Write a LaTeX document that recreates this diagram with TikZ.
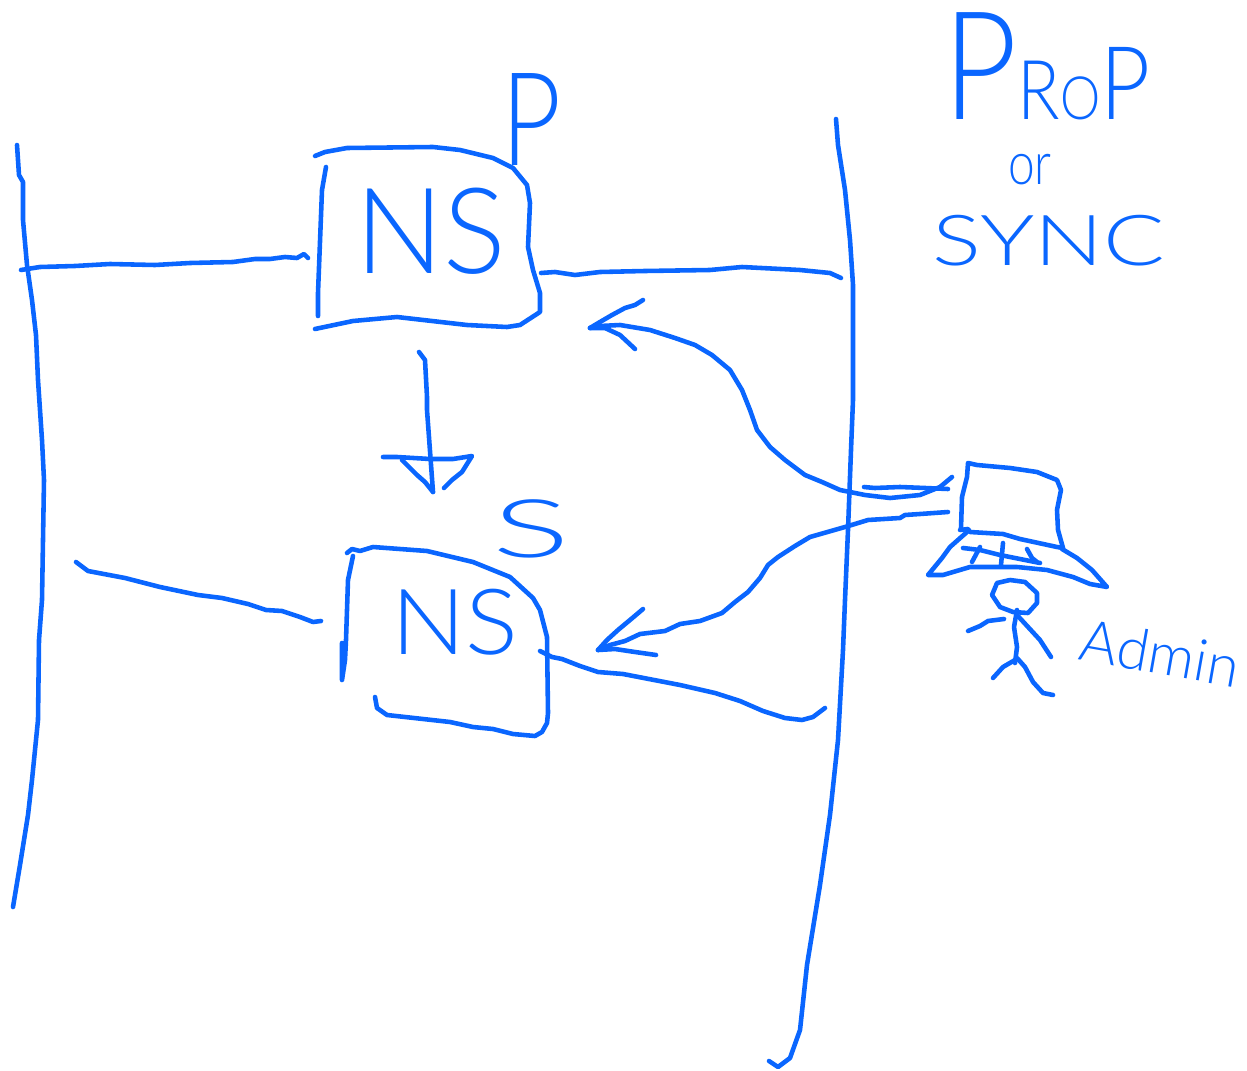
\documentclass[tikz,border=0pt]{standalone}
\usepackage{fontspec}
\setmainfont{Lato Light}
\usepackage{tikz}

\definecolor{penblue}{RGB}{10,102,255}
\tikzset{
    pen/.style={draw=penblue, line width=2.6pt, line cap=round, line join=round},
    hand/.style={text=penblue, inner sep=0pt, transform shape}
}
\newcommand{\handsize}[1]{\fontsize{#1}{#1}\selectfont}

\begin{document}
\begin{tikzpicture}[x=0.02cm, y=-0.02cm]
        \useasboundingbox (0,0) rectangle (1247,1071);

        % Text
        \node[hand, anchor=base west, xscale=0.85] (prop) at (943,120) {\handsize{86}P\handsize{47}R\handsize{34}O\handsize{58}P};
        \node[hand, xscale=0.8] (orword) at (1030,170) {\handsize{34}or};
        \node[hand, xscale=1.3] (sync) at (1049,241) {\handsize{40}SYNC};
        \node[hand, xscale=0.8] (ptag) at (532,120) {\handsize{74}P};
        \node[hand, xscale=1.8] (stag) at (531,529) {\handsize{46}S};
        \node[hand, xscale=0.98] (nsA) at (431,231) {\handsize{68}NS};
        \node[hand, xscale=1.08] (nsB) at (455,622) {\handsize{52}NS};
        \node[hand, rotate=-10] (admin) at (1160,653) {\handsize{33}Admin};

        % Ends of the connectors
        \coordinate (wallA) at (21,270);
        \coordinate (nsAw) at (308,258);
        \coordinate (nsAe) at (541,273);
        \coordinate (farA) at (841,278);
        \coordinate (wallB) at (76,562);
        \coordinate (nsBw) at (321,621);
        \coordinate (nsBe) at (540,651);
        \coordinate (farB) at (825,708);
        \coordinate (nsAs) at (419,352);
        \coordinate (nsBn) at (433,492);
        \coordinate (hatA) at (952,477);
        \coordinate (hatB) at (948,512);
        \coordinate (tipA) at (590,328);
        \coordinate (tipB) at (598,650);

        % Walls
        \draw[pen] (17,145) -- (19,175) -- (23,182) -- (23,220) -- (27,265) -- (32,300) -- (36,335) -- (38,380) -- (42,440) -- (44,480) -- (43,540) -- (42,600) -- (39,640) -- (38,720) -- (32,780) -- (28,815) -- (20,865) -- (13,907);
        \draw[pen] (836,119) -- (838,145) -- (845,190) -- (850,240) -- (853,285) -- (853,400) -- (851,450) -- (848,530) -- (845,600) -- (843,650) -- (838,740) -- (830,815) -- (820,885) -- (807,965) -- (800,1030) -- (790,1058) -- (778,1067) -- (769,1061);

        % Upper box
        \draw[pen] (315,156) -- (325,152) -- (347,148) -- (433,147) -- (460,150) -- (493,158) -- (513,168) -- (527,185) -- (530,203) -- (528,247) -- (533,270) -- (540,293) -- (540,312) -- (520,325) -- (507,327) -- (467,325) -- (397,317) -- (353,321) -- (315,329);
        \draw[pen] (326,167) -- (322,190) -- (318,293) -- (318,316);

        % Lower box
        \draw[pen] (347,553) -- (352,549) -- (360,551) -- (373,547) -- (427,551) -- (473,562) -- (510,577) -- (533,598) -- (540,610) -- (547,637) -- (548,713) -- (547,723) -- (542,732) -- (535,736) -- (513,734) -- (493,729) -- (473,727) -- (450,722) -- (387,715) -- (377,708) -- (375,697);
        \draw[pen] (353,556) -- (348,580) -- (346,640) -- (345,660) -- (342,680) -- (342,643);

        % Edges
        \draw[pen] (wallA) -- (40,267) -- (75,266) -- (110,264) -- (155,265) -- (190,263) -- (233,262) -- (255,259) -- (270,259) -- (285,257) -- (297,258) -- (304,254) -- (nsAw);
        \draw[pen] (nsAe) -- (555,272) -- (575,275) -- (600,272) -- (645,271) -- (710,270) -- (742,267) -- (800,270) -- (830,273) -- (farA);
        \draw[pen] (wallB) -- (88,571) -- (125,578) -- (160,587) -- (198,595) -- (222,598) -- (248,604) -- (266,610) -- (282,611) -- (300,617) -- (313,622) -- (nsBw);
        \draw[pen] (nsBe) -- (552,657) -- (562,659) -- (580,666) -- (598,672) -- (623,674) -- (680,685) -- (715,693) -- (740,701) -- (763,711) -- (785,718) -- (802,720) -- (813,717) -- (farB);
        \draw[pen] (nsAs) -- (425,360) -- (427,397) -- (427,410) -- (nsBn);
        \draw[pen] (383,457) -- (397,457) -- (430,459) -- (453,459) -- (472,456) -- (462,472) -- (452,480) -- (444,488);
        \draw[pen] (402,460) -- (417,475) -- (425,482) -- (nsBn);

        % Arrows from the hat
        \draw[pen] (948,489) -- (925,488) -- (900,487) -- (875,488) -- (864,487);
        \draw[pen] (hatA) -- (940,487) -- (920,495) -- (890,498) -- (865,495) -- (840,490) -- (822,482) -- (805,475) -- (785,460) -- (770,447) -- (757,430) -- (750,410) -- (742,390) -- (730,370) -- (712,355) -- (695,345) -- (675,338) -- (650,330) -- (620,325) -- (600,326) -- (tipA);
        \draw[pen] (tipA) -- (600,322) -- (612,315) -- (625,308) -- (635,305) -- (643,300);
        \draw[pen] (tipA) -- (605,328) -- (620,335) -- (635,349);
        \draw[pen] (hatB) -- (920,514) -- (905,515) -- (900,518) -- (868,520) -- (845,527) -- (810,537) -- (795,546) -- (778,557) -- (768,565) -- (760,578) -- (748,592) -- (735,602) -- (722,613) -- (700,621) -- (680,624) -- (665,631) -- (640,634) -- (625,641) -- (610,645) -- (tipB);
        \draw[pen] (tipB) -- (607,640) -- (618,630) -- (630,620) -- (643,609);
        \draw[pen] (tipB) -- (615,649) -- (635,652) -- (656,655);

        % Hat
        \draw[pen] (961,528) -- (962,497) -- (967,477) -- (968,463) -- (977,465) -- (1010,468) -- (1037,472) -- (1057,480) -- (1061,490) -- (1057,510) -- (1058,530) -- (1063,548);
        \draw[pen] (960,530) -- (968,529) -- (970,532) -- (1003,534) -- (1020,539) -- (1057,547) -- (1063,548);
        \draw[pen] (967,532) -- (950,547) -- (942,558) -- (928,575) -- (943,575) -- (970,567) -- (1017,567) -- (1047,570) -- (1073,577) -- (1090,584) -- (1107,587) -- (1092,570) -- (1077,558) -- (1062,549);
        \draw[pen] (963,548) -- (980,550) -- (1000,555) -- (1040,563);
        \draw[pen] (980,547) -- (972,562);
        \draw[pen] (1003,543) -- (1001,565);
        \draw[pen] (1027,549) -- (1032,558) -- (1037,562);

        % Person
        \draw[pen] (997,583) -- (1010,580) -- (1025,582) -- (1037,593) -- (1037,603) -- (1028,613) -- (1013,612) -- (1000,607) -- (992,595) -- cycle;
        \draw[pen] (1017,610) -- (1014,627) -- (1017,647) -- (1015,663);
        \draw[pen] (1017,615) -- (1040,640) -- (1051,657);
        \draw[pen] (1004,619) -- (988,621) -- (980,626) -- (968,631);
        \draw[pen] (1015,660) -- (1003,667) -- (993,678);
        \draw[pen] (1017,658) -- (1025,667) -- (1033,682) -- (1043,693) -- (1053,695);
    \end{tikzpicture}
\end{document}
